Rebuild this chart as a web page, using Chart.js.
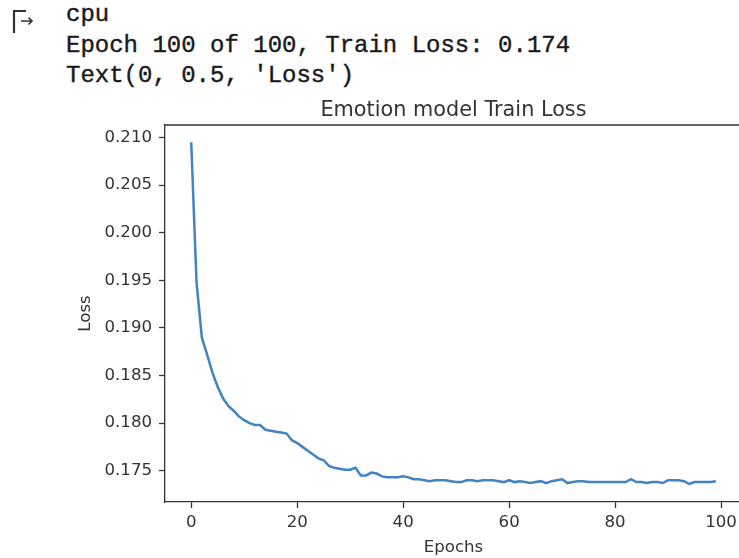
<!DOCTYPE html>
<html>
<head>
<meta charset="utf-8">
<script src="https://cdn.jsdelivr.net/npm/chart.js@4"></script>
<style>
    html, body {
        margin: 0;
        padding: 0;
        background: #fff;
        overflow: hidden;
        width: 739px;
        height: 558px;
    }
    #log {
        position: absolute;
        left: 66px;
        top: 0;
        font-family: "Liberation Mono", "DejaVu Sans Mono", monospace;
        font-size: 24px;
        line-height: 30.5px;
        color: #1a1a1a;
        white-space: pre;
        -webkit-text-stroke: 0.4px #1a1a1a;
    }
    #icon {
        position: absolute;
        left: 10px;
        top: 8px;
    }
    #chart {
        position: absolute;
        left: 0;
        top: 0;
    }
</style>
</head>
<body>
<svg id="icon" width="26" height="26" viewBox="0 0 26 26">
    <path d="M16 3 H4 V25" fill="none" stroke="#333" stroke-width="2.2"/>
    <path d="M11 13 H22 M18.5 9.5 L22 13 L18.5 16.5" fill="none" stroke="#333" stroke-width="1.7"/>
</svg>
<div id="log">cpu
Epoch 100 of 100, Train Loss: 0.174
Text(0, 0.5, 'Loss')</div>
<canvas id="chart" width="742" height="558"></canvas>
<script>
// Training loss per epoch
const epochs = [0, 1, 2, 3, 4, 5, 6, 7, 8, 9, 10, 11, 12, 13, 14, 15, 16, 17, 18, 19,
    20, 21, 22, 23, 24, 25, 26, 27, 28, 29, 30, 31, 32, 33, 34, 35, 36, 37, 38, 39,
    40, 41, 42, 43, 44, 45, 46, 47, 48, 49, 50, 51, 52, 53, 54, 55, 56, 57, 58, 59,
    60, 61, 62, 63, 64, 65, 66, 67, 68, 69, 70, 71, 72, 73, 74, 75, 76, 77, 78, 79,
    80, 81, 82, 83, 84, 85, 86, 87, 88, 89, 90, 91, 92, 93, 94, 95, 96, 97, 98, 99];

const trainLoss = [
    0.2095, 0.1948, 0.1890, 0.1872, 0.1853, 0.1838, 0.1826, 0.1818, 0.1813, 0.1807,
    0.1803, 0.1800, 0.1798, 0.1798, 0.1793, 0.1792, 0.1791, 0.1790, 0.1789, 0.1782,
    0.1779, 0.1775, 0.1771, 0.1767, 0.1763, 0.1761, 0.1755, 0.1753, 0.1752, 0.1751,
    0.1751, 0.1753, 0.1745, 0.1745, 0.1748, 0.1747, 0.1744, 0.1743, 0.1743, 0.1743,
    0.1744, 0.1743, 0.1741, 0.1741, 0.1740, 0.1739, 0.1740, 0.1740, 0.1740, 0.1739,
    0.1738, 0.1738, 0.1740, 0.1740, 0.1739, 0.1740, 0.1740, 0.1740, 0.1739, 0.1738,
    0.1740, 0.1738, 0.1739, 0.1738, 0.1737, 0.1738, 0.1739, 0.1737, 0.1739, 0.1740,
    0.1741, 0.1737, 0.1738, 0.1739, 0.1739, 0.1738, 0.1738, 0.1738, 0.1738, 0.1738,
    0.1738, 0.1738, 0.1738, 0.1741, 0.1738, 0.1738, 0.1737, 0.1738, 0.1738, 0.1737,
    0.1740, 0.1740, 0.1740, 0.1739, 0.1736, 0.1738, 0.1738, 0.1738, 0.1738, 0.1739
];

const xTicks = [0, 20, 40, 60, 80, 100];
const yTicks = [0.175, 0.180, 0.185, 0.190, 0.195, 0.200, 0.205, 0.210];

// axis limits (matplotlib style 5% margins)
const xMin = -4.95, xMax = 103.95;
const yMin = 0.17171, yMax = 0.21131;

const chartTitle = 'Emotion model Train Loss';
const axisColor = '#333';
const tickFont = { family: 'DejaVu Sans', size: 16.6 };

// draws the top/right spines and the title centred over the axes box
const boxPlugin = {
    id: 'box',
    afterDatasetsDraw(chart) {
        const { ctx, chartArea } = chart;
        ctx.save();
        ctx.strokeStyle = axisColor;
        ctx.lineWidth = 1.3;
        ctx.beginPath();
        ctx.moveTo(chartArea.left, chartArea.top);
        ctx.lineTo(chartArea.right, chartArea.top);
        ctx.lineTo(chartArea.right, chartArea.bottom);
        ctx.stroke();

        ctx.fillStyle = '#333';
        ctx.font = '20.8px "DejaVu Sans"';
        ctx.textAlign = 'center';
        ctx.textBaseline = 'middle';
        ctx.fillText(chartTitle, (chartArea.left + chartArea.right) / 2, chartArea.top - 14.5);
        ctx.restore();
    }
};

const ctx = document.getElementById('chart').getContext('2d');
new Chart(ctx, {
    type: 'line',
    data: {
        datasets: [{
            label: 'Train Loss',
            data: epochs.map((e, i) => ({ x: e, y: trainLoss[i] })),
            borderColor: '#4283c0',
            borderWidth: 2.5,
            pointRadius: 0,
            tension: 0,
            fill: false
        }]
    },
    options: {
        responsive: false,
        animation: false,
        devicePixelRatio: 1,
        layout: { padding: { top: 125, left: 0, right: 0, bottom: 0 } },
        plugins: {
            legend: { display: false },
            tooltip: { enabled: false },
            title: { display: false }
        },
        scales: {
            x: {
                type: 'linear',
                min: xMin,
                max: xMax,
                afterBuildTicks: axis => { axis.ticks = xTicks.map(v => ({ value: v })); },
                afterFit: axis => { axis.height = 56; },
                grid: { drawOnChartArea: false, drawTicks: true, tickLength: 6, tickColor: axisColor, tickWidth: 1.3 },
                border: { display: true, color: axisColor, width: 1.3 },
                ticks: { color: '#333', font: tickFont, padding: 5, autoSkip: false, maxRotation: 0 },
                title: {
                    display: true,
                    text: 'Epochs',
                    color: '#333',
                    font: tickFont,
                    padding: { top: 0, bottom: 0 }
                }
            },
            y: {
                type: 'linear',
                min: yMin,
                max: yMax,
                afterBuildTicks: axis => { axis.ticks = yTicks.map(v => ({ value: v })); },
                afterFit: axis => { axis.width = 165; },
                grid: { drawOnChartArea: false, drawTicks: true, tickLength: 6, tickColor: axisColor, tickWidth: 1.3 },
                border: { display: true, color: axisColor, width: 1.3 },
                ticks: {
                    color: '#333',
                    font: tickFont,
                    padding: 7,
                    autoSkip: false,
                    callback: v => v.toFixed(3)
                },
                title: {
                    display: true,
                    text: 'Loss',
                    color: '#333',
                    font: tickFont,
                    padding: { top: 76, bottom: 0 }
                }
            }
        }
    },
    plugins: [boxPlugin]
});
</script>
</body>
</html>
